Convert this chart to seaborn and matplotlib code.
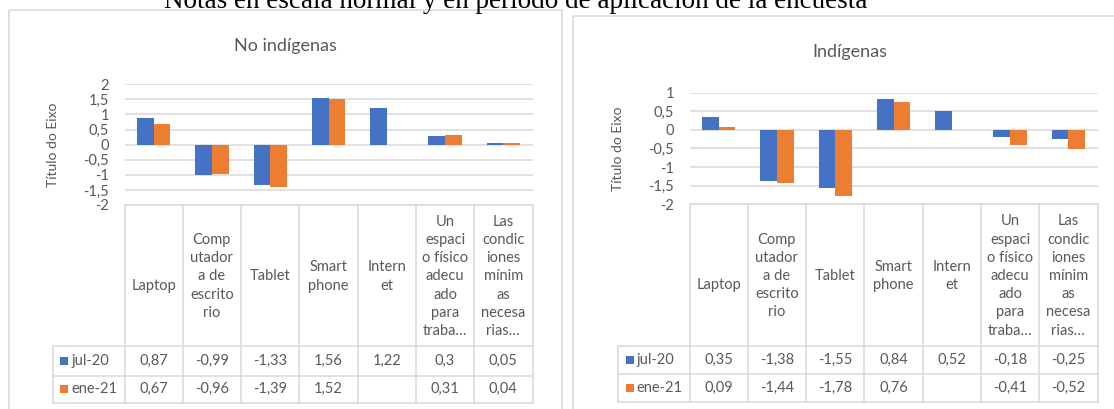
import numpy as np
import pandas as pd
import seaborn as sns
import matplotlib.pyplot as plt
from matplotlib.patches import Rectangle
from matplotlib.ticker import FuncFormatter

# ---------------- data ----------------
categories = ["Laptop", "Computador a de escritorio", "Tablet", "Smartphone",
              "Internet", "Un espacio físico adecuado para trabajar",
              "Las condiciones mínimas necesarias"]
header_labels = ["\nLaptop", "Comp\nutador\na de\nescrito\nrio", "Tablet",
                 "Smart\nphone", "Intern\net",
                 "Un\nespaci\no físico\nadecu\nado\npara\ntraba…",
                 "Las\ncondic\niones\nmínim\nas\nnecesa\nrias…"]
series = ["jul-20", "ene-21"]

no_ind_jul20 = [0.87, -0.99, -1.33, 1.56, 1.22, 0.30, 0.05]
no_ind_ene21 = [0.67, -0.96, -1.39, 1.52, np.nan, 0.31, 0.04]
ind_jul20 = [0.35, -1.38, -1.55, 0.84, 0.52, -0.18, -0.25]
ind_ene21 = [0.09, -1.44, -1.78, 0.76, np.nan, -0.41, -0.52]

titles = ["No indígenas", "Indígenas"]
y_label = "Título do Eixo"
suptitle = "Notas en escala normal y en período de aplicación de la encuesta"

# ---------------- style ----------------
sns.set_style("white")
plt.rcParams["font.family"] = ["Lato", "DejaVu Sans"]
BLUE, ORANGE = "#4472C4", "#ED7D31"
TXT = "#595959"
GRID = "#D9D9D9"

W, H = 1114, 409
fig = plt.figure(figsize=(W / 100, H / 100), dpi=100)

# overlay in pixel coordinates (for borders and the data table)
ov = fig.add_axes([0, 0, 1, 1], zorder=-1)
ov.set_xlim(0, W)
ov.set_ylim(H, 0)
ov.axis("off")


def fmt(v):
    return ("%g" % v).replace(".", ",")


def make_chart(px_left, px_top, px_right, px_bottom, ylim, yticks,
               jul, ene, title, title_xy, legend_left, rows):
    ax = fig.add_axes([px_left / W, 1 - px_bottom / H,
                       (px_right - px_left) / W, (px_bottom - px_top) / H])
    ax.set_facecolor("none")
    df = pd.DataFrame({
        "cat": categories * 2,
        "val": list(jul) + list(ene),
        "serie": [series[0]] * len(categories) + [series[1]] * len(categories),
    })
    sns.barplot(data=df, x="cat", y="val", hue="serie", order=categories,
                hue_order=series, palette=[BLUE, ORANGE], saturation=1,
                width=0.57, errorbar=None, linewidth=0, legend=False, ax=ax)
    ax.set_xlim(-0.5, len(categories) - 0.5)
    ax.set_ylim(*ylim)
    ax.set_yticks(yticks)
    ax.yaxis.set_major_formatter(FuncFormatter(lambda v, p: fmt(v)))
    ax.tick_params(axis="y", length=0, pad=11, labelsize=10.5, labelcolor=TXT)
    ax.set_xticks([])
    ax.set_xlabel("")
    ax.set_ylabel(y_label, fontsize=10, color=TXT, va="center")
    ax.yaxis.set_label_coords((legend_left - px_left) / (px_right - px_left), 0.5)
    ax.yaxis.grid(True, color=GRID, lw=1.1)
    ax.set_axisbelow(True)
    for s in ax.spines.values():
        s.set_visible(False)

    ov.text(title_xy[0], title_xy[1], title, ha="center", va="center",
            fontsize=13, color=TXT)

    # data table
    n = len(categories)
    colw = (px_right - px_left) / n
    xs = [px_left + i * colw for i in range(n + 1)]
    r0, r1, r2, r3 = rows
    lc = dict(color=GRID, lw=1.1)
    ov.plot([px_left, px_right], [r0, r0], **lc)
    ov.plot([legend_left, px_right], [r1, r1], **lc)
    ov.plot([legend_left, px_right], [r2, r2], **lc)
    ov.plot([legend_left, px_right], [r3, r3], **lc)
    for x in xs:
        ov.plot([x, x], [r0, r3], **lc)
    ov.plot([legend_left, legend_left], [r1, r3], **lc)
    for i, lab in enumerate(header_labels):
        ov.text((xs[i] + xs[i + 1]) / 2, (r0 + r1) / 2 + 1, lab, ha="center",
                va="center", multialignment="center", fontsize=10.5,
                color=TXT, linespacing=1.38)
    for (vals, name, col, ya, yb) in [(jul, series[0], BLUE, r1, r2),
                                      (ene, series[1], ORANGE, r2, r3)]:
        yc = (ya + yb) / 2
        ov.add_patch(Rectangle((legend_left + 7.5, yc - 4), 8, 8,
                               color=col, lw=0))
        ov.text(legend_left + 18.5, yc, name, ha="left", va="center",
                fontsize=10.5, color=TXT)
        for i, v in enumerate(vals):
            if not np.isnan(v):
                ov.text((xs[i] + xs[i + 1]) / 2, yc, fmt(v), ha="center",
                        va="center", fontsize=10.5, color=TXT)
    return ax


# panel borders
ov.add_patch(Rectangle((8.5, 9.5), 553.5, 450, fill=False, ec=GRID, lw=1.1))
ov.add_patch(Rectangle((572.5, 15.5), 560, 450, fill=False, ec=GRID, lw=1.1))

# caption at the very top (cropped by the image edge, as in the reference)
ov.text(516, 8.0, suptitle, ha="center", va="baseline",
        family=["Liberation Serif", "DejaVu Serif"], fontsize=19.5, color="#000000")

make_chart(124.5, 84.3, 532.5, 205.0, (-2, 2), np.arange(-2, 2.01, 0.5),
           no_ind_jul20, no_ind_ene21, titles[0], (285, 46), 52.7,
           (205.0, 346.0, 375.5, 402.5))
make_chart(689.5, 92.7, 1097.5, 204.3, (-2, 1), np.arange(-2, 1.01, 0.5),
           ind_jul20, ind_ene21, titles[1], (850, 52.5), 618.3,
           (204.3, 345.7, 373.5, 401.7))

fig.savefig("out.png", dpi=100)
